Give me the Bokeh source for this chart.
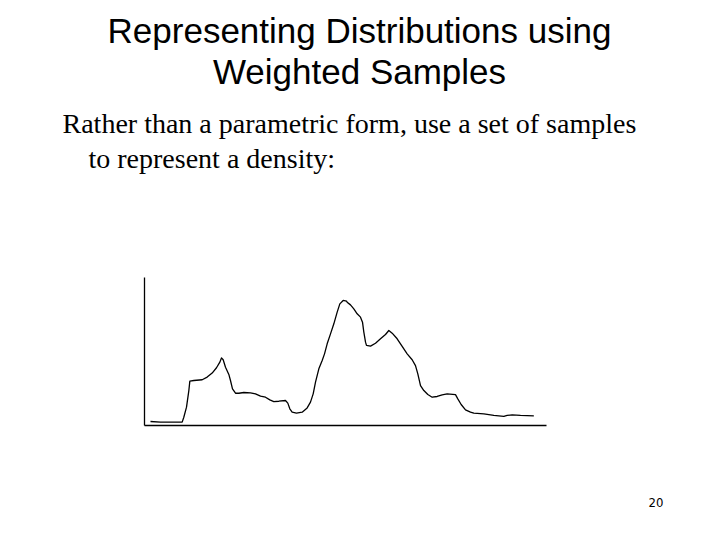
from bokeh.plotting import figure
from bokeh.models import Range1d, Label, LinearAxis, FixedTicker
from bokeh.embed import file_html
from bokeh.resources import INLINE

# Density curve (x: 0..100, y: 0..1)
xs = [1.49, 3.98, 9.37, 9.78, 10.45, 11.03, 11.28, 12.27, 14.35, 15.59, 16.83, 17.91,
      18.74, 19.15, 19.57, 20.15, 20.98, 21.39, 21.89, 22.64, 23.47, 24.71, 26.37,
      27.61, 28.86, 30.10, 31.18, 32.17, 33.42, 35.07, 35.65, 36.15, 36.73, 37.81,
      39.22, 40.46, 41.29, 41.96, 42.54, 43.37, 44.20, 44.78, 45.44, 46.27, 47.10,
      47.93, 48.59, 49.42, 50.25, 50.41, 51.24, 52.07, 52.90, 53.73, 54.23, 54.56,
      54.98, 55.22, 56.22, 57.46, 58.71, 59.95, 60.78, 61.61, 62.85, 64.10, 65.34,
      66.58, 67.41, 67.99, 68.66, 69.49, 70.48, 71.56, 72.80, 74.05, 75.29, 77.36,
      77.94, 78.77, 79.85, 81.09, 81.92, 84.41, 86.90, 89.39, 90.22, 91.46, 93.53,
      96.85]
ys = [0.027, 0.023, 0.023, 0.056, 0.124, 0.236, 0.300, 0.304, 0.309, 0.327, 0.354, 0.390,
      0.428, 0.457, 0.444, 0.394, 0.345, 0.304, 0.248, 0.218, 0.218, 0.223, 0.221,
      0.214, 0.198, 0.191, 0.173, 0.162, 0.164, 0.169, 0.151, 0.113, 0.090, 0.083,
      0.090, 0.119, 0.158, 0.214, 0.293, 0.383, 0.439, 0.484, 0.552, 0.619, 0.687,
      0.766, 0.822, 0.845, 0.840, 0.833, 0.815, 0.788, 0.755, 0.732, 0.698, 0.631,
      0.563, 0.541, 0.536, 0.556, 0.586, 0.615, 0.642, 0.624, 0.586, 0.534, 0.484,
      0.444, 0.405, 0.349, 0.270, 0.236, 0.209, 0.191, 0.196, 0.207, 0.214, 0.209,
      0.180, 0.142, 0.106, 0.090, 0.083, 0.079, 0.068, 0.061, 0.068, 0.072, 0.068,
      0.065]

x_bounds = (0, 100)
y_bounds = (0, 1)

title_lines = ["Representing Distributions using", "Weighted Samples"]
body_lines = ["Rather than a parametric form, use a set of samples", "to represent a density:"]
page_number = "20"

W, H = 704, 524
FL, FR, FT, FB = 144, 546, 277, 425  # chart box edges in canvas pixels
X0, X1 = x_bounds
Y0, Y1 = y_bounds


def dx(px):
    return X0 + (px - FL) * (X1 - X0) / (FR - FL)


def dy(py):
    return Y0 + (FB - py) * (Y1 - Y0) / (FB - FT)


p = figure(width=W, height=H, output_backend="svg", toolbar_location=None,
           x_range=Range1d(dx(0), dx(W)), y_range=Range1d(dy(H), dy(0)),
           x_axis_type=None, y_axis_type=None,
           min_border=0)
p.grid.visible = False
p.outline_line_color = None
p.background_fill_color = "white"
p.border_fill_color = "white"


def bare_axis(bounds):
    ax = LinearAxis(ticker=FixedTicker(ticks=[]), bounds=bounds, fixed_location=0,
                    axis_line_color="black", axis_line_width=1.3,
                    major_tick_in=0, major_tick_out=0, minor_tick_in=0, minor_tick_out=0,
                    major_label_standoff=0, major_label_text_font_size="0px",
                    axis_label_standoff=0)
    return ax

p.add_layout(bare_axis(x_bounds), "below")
p.add_layout(bare_axis(y_bounds), "left")

p.line(xs, ys, line_color="black", line_width=1.3, line_join="round")


def add_text(px, py, txt, align, font, size):
    p.add_layout(Label(x=dx(px), y=dy(py), text=txt, text_align=align,
                       text_baseline="alphabetic", text_font=font,
                       text_font_size=size, text_color="black"))

add_text(359, 30, title_lines[0], "center", "Liberation Sans", "35px")
add_text(359, 71, title_lines[1], "center", "Liberation Sans", "35px")
add_text(62, 122.5, body_lines[0], "left", "Liberation Serif", "28px")
add_text(88, 157.5, body_lines[1], "left", "Liberation Serif", "28px")
add_text(663, 501.5, page_number, "right",
         "'Liberation Sans Narrow', 'DejaVu Sans Condensed', 'Liberation Sans'", "13px")

open("out.html", "w").write(file_html(p, INLINE))
